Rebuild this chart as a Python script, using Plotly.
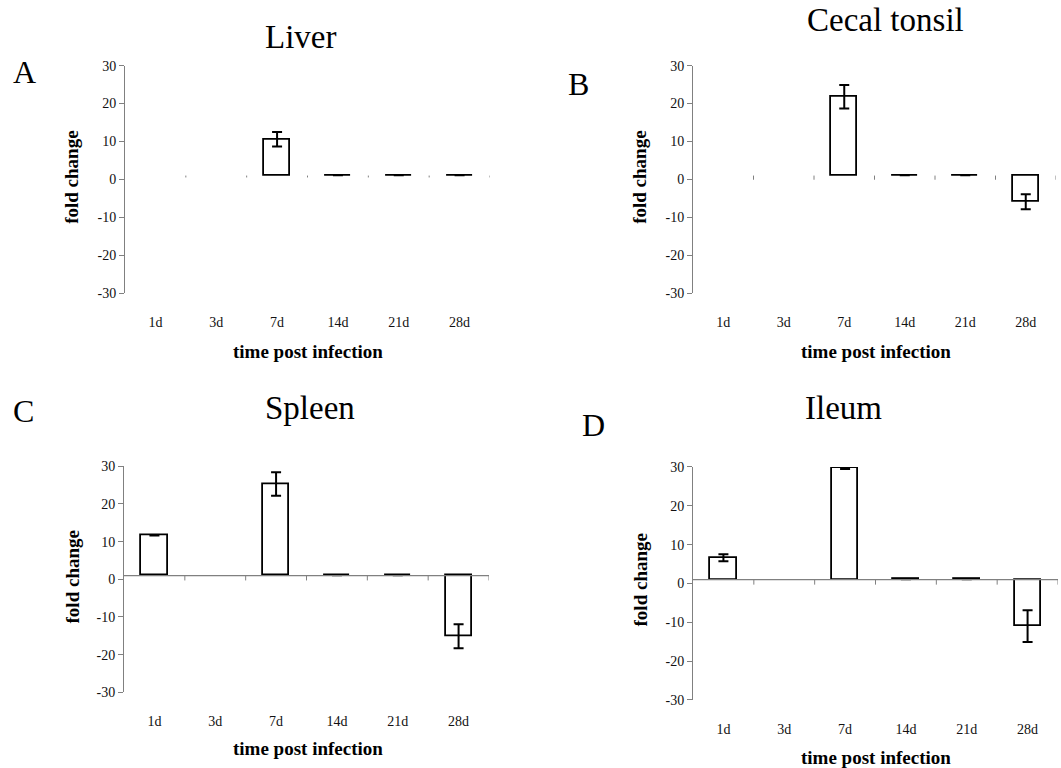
import plotly.graph_objects as go

W, H = 1061, 768

categories = ["1d", "3d", "7d", "14d", "21d", "28d"]
tick_vals_y = [30, 20, 10, 0, -10, -20, -30]
tick_text_y = ["30", "20", "10", "0", "-10", "-20", "-30"]

panel_letters = ["A", "B", "C", "D"]
panel_titles = ["Liver", "Cecal tonsil", "Spleen", "Ileum"]

liver_values = [None, None, 10.6, 1.1, 1.1, 1.1]
liver_errors = [None, None, 1.9, None, None, None]
cecal_values = [None, None, 21.8, 1.1, 1.1, -5.9]
cecal_errors = [None, None, 3.1, None, None, 2.0]
spleen_values = [11.6, None, 25.3, 1.1, 1.1, -15.1]
spleen_errors = [None, None, 3.1, None, None, 3.2]
ileum_values = [6.6, None, 29.8, 1.1, 1.1, -11.0]
ileum_errors = [0.9, None, 0.3, None, None, 4.1]

base_value = 1  # bars originate at fold change = 1

series = [
    (liver_values, liver_errors),
    (cecal_values, cecal_errors),
    (spleen_values, spleen_errors),
    (ileum_values, ileum_errors),
]

# panel layout in target pixels: (x0, x1, ytop, ybottom)
boxes = [
    (125, 490, 66, 293),
    (693, 1056, 66, 293),
    (124, 489, 466, 691.7),
    (693, 1058, 466.7, 699.3),
]
show_zero_line = [False, False, True, True]
boundary_tick_len = [0.5, 1.1, 1.3, 1.3]
letter_pos = [(24, 72), (578, 84), (23, 411), (593, 425)]
title_pos = [(300, 37), (885, 20), (310, 408), (843, 408)]
ytitle_pos = [(72, 178), (640, 178), (72, 577), (640, 580)]
xtitle_pos = [(308, 351), (876, 351), (308, 748), (876, 757)]

# vertical calibration of the rendered page
Y_OFF, Y_SCALE = 7.4, 0.979


def px(x):
    return x / W


def py(y):
    return 1 - ((y - Y_OFF) / Y_SCALE) / H


fig = go.Figure()
annotations = []
shapes = []
serif = "Liberation Serif"
xs = list(range(len(categories)))


def note(text, x, y, size, angle=0, weight="normal"):
    return dict(text=text, x=px(x), y=py(y), xref="paper", yref="paper",
                xanchor="center", yanchor="middle", showarrow=False,
                textangle=angle,
                font=dict(family=serif, size=size, color="black",
                          weight=weight))


for i, ((vals, errs), (x0, x1, yt, yb)) in enumerate(zip(series, boxes)):
    n = i + 1
    xa = "x" if n == 1 else f"x{n}"
    ya = "y" if n == 1 else f"y{n}"
    heights = [None if v is None else v - base_value for v in vals]
    fig.add_trace(go.Bar(
        x=xs, y=heights, base=base_value,
        xaxis=xa, yaxis=ya, width=0.43,
        marker=dict(color="white", line=dict(color="black", width=1.8)),
        error_y=dict(type="data", array=errs, visible=True, color="black",
                     thickness=2, width=5),
        showlegend=False, hoverinfo="skip",
    ))
    xkey = "xaxis" if n == 1 else f"xaxis{n}"
    ykey = "yaxis" if n == 1 else f"yaxis{n}"
    fig.update_layout(**{
        xkey: dict(domain=[px(x0), px(x1)], anchor=ya, range=[-0.5, 5.5],
                   tickvals=xs, ticktext=categories, showline=False,
                   showgrid=False, zeroline=False, ticks="outside", ticklen=16,
                   tickcolor="rgba(0,0,0,0)",
                   tickfont=dict(family=serif, size=14, color="#111")),
        ykey: dict(domain=[py(yb), py(yt)], anchor=xa, range=[-30, 30],
                   tickvals=tick_vals_y, ticktext=tick_text_y, showline=True,
                   linecolor="#808080", linewidth=1, showgrid=False,
                   zeroline=False, ticks="outside", ticklen=5,
                   tickcolor="#808080",
                   tickfont=dict(family=serif, size=14, color="#111")),
    })
    # horizontal category axis crossing at fold change = 1
    if show_zero_line[i]:
        shapes.append(dict(type="line", xref=f"{xa} domain", yref=ya,
                           x0=0, x1=1, y0=base_value, y1=base_value,
                           line=dict(color="#808080", width=1.2)))
    for b in range(1, len(categories) + 1):
        shapes.append(dict(type="line", xref=xa, yref=ya,
                           x0=b - 0.5, x1=b - 0.5, y0=base_value,
                           y1=base_value - boundary_tick_len[i],
                           line=dict(color="#808080", width=1)))
    annotations.append(note(panel_letters[i], *letter_pos[i], 32))
    annotations.append(note(panel_titles[i], *title_pos[i], 33))
    annotations.append(note("fold change", *ytitle_pos[i], 19, -90, "bold"))
    annotations.append(note("time post infection", *xtitle_pos[i], 19, 0,
                            "bold"))

fig.update_layout(
    width=W, height=H, margin=dict(l=0, r=0, t=0, b=0),
    paper_bgcolor="white", plot_bgcolor="white",
    annotations=annotations, shapes=shapes, bargap=0,
)

fig.write_html("out.html", config={"displayModeBar": False},
               post_script="document.body.style.margin='0';")
